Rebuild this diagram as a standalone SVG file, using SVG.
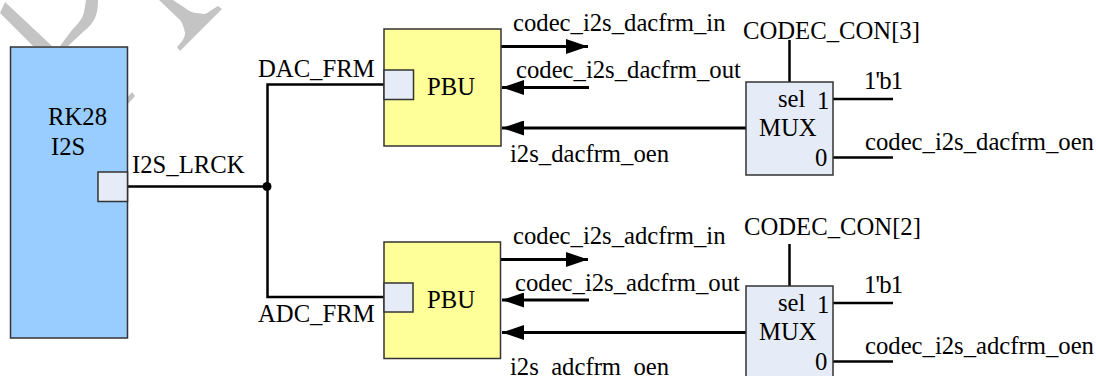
<svg xmlns="http://www.w3.org/2000/svg" width="1096" height="376" viewBox="0 0 1096 376">
<style>
text{font-family:"Liberation Serif","Times New Roman",serif;font-size:24.700px;fill:#000}
.box{stroke:#333;stroke-width:1.500}
.w{fill:none;stroke:#000;stroke-width:3}
.t{fill:none;stroke:#000;stroke-width:2.500}
.mark{fill:#c4c4c4}
</style>
<defs>
<marker id="a" markerUnits="userSpaceOnUse" markerWidth="23" markerHeight="15" refX="22" refY="7.500" orient="auto"><path d="M0 0L22 7.500L0 15Z" fill="#000"/></marker>
</defs>
<g id="watermark">
<path class="mark" d="M0 13L5 2L52 46H33Z"/>
<path class="mark" d="M86 0H98C98 8 97 13 95 18C92 24 88 28 83 32L68 46H60L72 30C78 24 83 18 84 12Z"/>
<path class="mark" d="M159 0H173L185 8C190 12 194 13 197 13C201 13 204 15 207 13L218 6L222 9L180 51L177 47C183 41 185 37 185 33C184 28 183 24 180 20Z"/>
<path class="mark" d="M127 98L132 92L135 96L127 105Z"/>
</g>
<g id="connectors">
<path class="t" d="M112 186.500H267"/>
<path class="t" d="M400 84.500H267.500V297H400"/>
<circle cx="267" cy="186.500" r="4.500"/>
<path class="w" d="M500 46.500H588" marker-end="url(#a)"/>
<path class="w" d="M589 87.500H502" marker-end="url(#a)"/>
<path class="w" d="M746 128H502" marker-end="url(#a)"/>
<path class="t" d="M789.500 40V82"/>
<path class="t" d="M833 99H893"/>
<path class="t" d="M833 157.500H893"/>
<path class="w" d="M500 259.500H588" marker-end="url(#a)"/>
<path class="w" d="M589 300H502" marker-end="url(#a)"/>
<path class="w" d="M746 332.500H502" marker-end="url(#a)"/>
<path class="t" d="M789.500 244V286"/>
<path class="t" d="M833 303H893"/>
<path class="t" d="M833 361.500H893"/>
</g>
<g id="rk28">
<rect class="box" x="10.500" y="47" width="117" height="291" fill="#99ccff"/>
<rect class="box" x="98" y="172" width="29.500" height="29.500" fill="#e6ecf7"/>
<text x="48" y="125">RK28</text>
<text x="51" y="155">I2S</text>
</g>
<text x="132" y="173">I2S_LRCK</text>
<text x="258" y="77">DAC_FRM</text>
<text x="258" y="322">ADC_FRM</text>
<g id="pbu-dac">
<rect class="box" x="384" y="29" width="117" height="117" fill="#ffff99"/>
<rect class="box" x="384" y="70" width="29.500" height="29.500" fill="#e6ecf7"/>
<text x="427" y="95">PBU</text>
</g>
<g id="pbu-adc">
<rect class="box" x="384" y="242" width="116.500" height="116.500" fill="#ffff99"/>
<rect class="box" x="384" y="283" width="29" height="29" fill="#e6ecf7"/>
<text x="427" y="308">PBU</text>
</g>
<g id="mux-dac">
<rect class="box" x="746" y="82" width="87" height="93" fill="#e6ecf7"/>
<text x="778" y="107">sel</text>
<text x="817" y="109">1</text>
<text x="759" y="136">MUX</text>
<text x="815" y="166">0</text>
</g>
<g id="mux-adc">
<rect class="box" x="746" y="286" width="87" height="93" fill="#e6ecf7"/>
<text x="778" y="311">sel</text>
<text x="817" y="313">1</text>
<text x="759" y="340">MUX</text>
<text x="815" y="370">0</text>
</g>
<text x="513" y="31">codec_i2s_dacfrm_in</text>
<text x="516" y="78">codec_i2s_dacfrm_out</text>
<text x="510" y="162">i2s_dacfrm_oen</text>
<text x="743" y="39">CODEC_CON[3]</text>
<text x="864" y="89" textLength="39" lengthAdjust="spacing">1'b1</text>
<text x="865" y="150">codec_i2s_dacfrm_oen</text>
<text x="513" y="244">codec_i2s_adcfrm_in</text>
<text x="515" y="291">codec_i2s_adcfrm_out</text>
<text x="510" y="375">i2s_adcfrm_oen</text>
<text x="744" y="235">CODEC_CON[2]</text>
<text x="864" y="293" textLength="39" lengthAdjust="spacing">1'b1</text>
<text x="865" y="354">codec_i2s_adcfrm_oen</text>
</svg>
